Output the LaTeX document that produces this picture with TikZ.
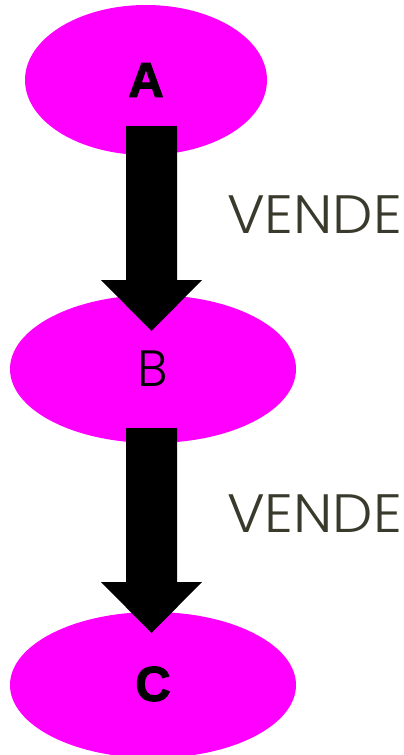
\documentclass[tikz,border=0pt]{standalone}
\usepackage{fontspec}
\usetikzlibrary{shapes.geometric,calc}
\newfontfamily\heavyfont[FakeBold=2.2]{Liberation Sans Bold}
\newfontfamily\lightfont{Poppins Light}
\definecolor{pinkfill}{HTML}{FF00FF}
\definecolor{labelgrey}{HTML}{3A3A2C}
\tikzset{
  blob/.style={ellipse, fill=pinkfill, inner sep=0pt},
  heavytext/.style={font=\heavyfont\fontsize{49}{49}\selectfont, text=black},
  lighttext/.style={font=\lightfont\fontsize{51}{51}\selectfont, text=black},
  vendetext/.style={font=\lightfont\fontsize{54}{54}\selectfont, text=labelgrey, anchor=base, inner sep=0pt},
}
\newcommand\fatarrow[2]{%
  \fill[black] ($(#1)+(-25.5,0)$) -- ($(#2)+(-25.5,-51)$) -- ($(#2)+(-50.5,-51)$) -- (#2)
    -- ($(#2)+(50.5,-51)$) -- ($(#2)+(25.5,-51)$) -- ($(#1)+(25.5,0)$) -- cycle;}
\begin{document}
\begin{tikzpicture}[x=1pt,y=-1pt]
\useasboundingbox (0,0) rectangle (404,755);
\node[blob, minimum width=242pt, minimum height=150pt] (A) at (146,80) {};
\node[blob, minimum width=286pt, minimum height=148pt] (B) at (153,369) {};
\node[blob, minimum width=286pt, minimum height=146pt] (C) at (153,685) {};
\coordinate (a1s) at (151.5,126);
\coordinate (a1e) at (151.5,331);
\coordinate (a2s) at (151.5,428);
\coordinate (a2e) at (151.5,633);
\fatarrow{a1s}{a1e}
\fatarrow{a2s}{a2e}
\node[heavytext] (At) at (A.center) {A};
\node[lighttext] (Bt) at (B.center) {B};
\node[heavytext] (Ct) at (153,684) {C};
\node[vendetext] (v1) at (314.5,233) {\scalebox{1.06}[1]{VENDE}};
\node[vendetext] (v2) at (314.5,532) {\scalebox{1.06}[1]{VENDE}};
\end{tikzpicture}
\end{document}
